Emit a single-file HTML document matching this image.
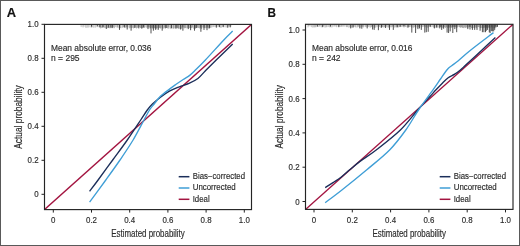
<!DOCTYPE html>
<html><head><meta charset="utf-8"><style>
html,body{margin:0;padding:0;background:#fff;}
#w{position:relative;width:520px;height:246px;box-sizing:border-box;border:1px solid #595959;overflow:hidden;background:#fff;}
svg{position:absolute;left:-1px;top:-1px;font-family:"Liberation Sans", sans-serif;will-change:transform;}
text{stroke:#2b2b2b;stroke-width:0.16px;paint-order:stroke;}
</style></head><body><div id="w">
<svg width="520" height="246" viewBox="0 0 520 246">
<clipPath id="c44"><rect x="44.5" y="24.4" width="207.0" height="185.2"/></clipPath>
<g clip-path="url(#c44)">
<line x1="44.5" y1="209.6" x2="251.5" y2="24.4" stroke="#a31440" stroke-width="1.35"/>
</g>
<path d="M89.60 191.30C91.02 189.42 94.25 185.22 98.10 180.00C101.95 174.78 107.83 166.67 112.70 160.00C117.57 153.33 122.63 146.67 127.30 140.00C131.97 133.33 137.37 125.00 140.70 120.00C144.03 115.00 145.35 112.67 147.30 110.00C149.25 107.33 150.20 106.13 152.40 104.00C154.60 101.87 157.60 99.38 160.50 97.20C163.40 95.02 166.67 92.63 169.80 90.90C172.93 89.17 176.10 88.05 179.30 86.80C182.50 85.55 185.90 84.78 189.00 83.40C192.10 82.02 195.23 80.53 197.90 78.50C200.57 76.47 201.95 74.28 205.00 71.20C208.05 68.12 211.58 64.55 216.20 60.00C220.82 55.45 229.95 46.58 232.70 43.90" fill="none" stroke="#1b2e5a" stroke-width="1.35" stroke-linejoin="round"/>
<path d="M89.60 202.10C92.30 198.42 100.73 187.02 105.80 180.00C110.87 172.98 115.45 166.67 120.00 160.00C124.55 153.33 129.10 146.67 133.10 140.00C137.10 133.33 141.27 125.00 144.00 120.00C146.73 115.00 147.80 112.67 149.50 110.00C151.20 107.33 152.38 106.28 154.20 104.00C156.02 101.72 157.80 98.82 160.40 96.30C163.00 93.78 167.30 90.82 169.80 88.90C172.30 86.98 173.17 86.37 175.40 84.80C177.63 83.23 180.87 81.03 183.20 79.50C185.53 77.97 187.45 77.08 189.40 75.60C191.35 74.12 192.23 73.20 194.90 70.60C197.57 68.00 200.58 65.10 205.40 60.00C210.22 54.90 219.25 44.82 223.80 40.00C228.35 35.18 231.22 32.58 232.70 31.10" fill="none" stroke="#3f9ed6" stroke-width="1.35" stroke-linejoin="round"/>
<path d="M81.0 24.5V26.9M82.0 24.5V27.1M83.1 24.5V27.5M83.7 24.5V26.6M85.1 24.5V27.0M85.8 24.5V28.0M86.8 24.5V27.8M87.7 24.5V27.5M88.4 24.5V27.5M89.8 24.5V27.3M91.0 24.5V27.5M91.6 24.5V27.7M92.6 24.5V27.0M93.2 24.5V27.8M94.2 24.5V27.6M95.5 24.5V27.6M97.0 24.5V27.2M98.3 24.5V27.2M99.7 24.5V27.8" stroke="#aaa" stroke-width="0.6" fill="none"/>
<path d="M100.0 24.5V27.2M100.7 24.5V28.4M101.7 24.5V27.9M102.5 24.5V27.7M103.3 24.5V27.5M104.4 24.5V27.8M105.8 24.5V28.0M107.3 24.5V28.2M108.7 24.5V27.9M109.4 24.5V28.2M110.9 24.5V28.3M111.9 24.5V28.0M112.7 24.5V28.2M113.7 24.5V27.4M114.3 24.5V28.2M115.8 24.5V27.1M117.1 24.5V27.6M117.7 24.5V27.4M119.0 24.5V28.2M119.5 24.5V27.9M120.1 24.5V28.0M120.9 24.5V28.2M122.4 24.5V27.7M123.9 24.5V27.4M124.5 24.5V27.8M125.0 24.5V27.3M125.9 24.5V27.9M126.6 24.5V27.1M127.9 24.5V27.4M129.4 24.5V28.3M130.3 24.5V27.6M131.3 24.5V27.9M132.4 24.5V27.8M133.5 24.5V28.3M134.5 24.5V27.6M135.7 24.5V27.3M136.5 24.5V28.4M137.6 24.5V27.8M138.1 24.5V27.6M139.2 24.5V27.0M140.3 24.5V27.9M140.8 24.5V27.9M141.8 24.5V28.0M142.7 24.5V28.0M143.9 24.5V27.0M144.5 24.5V27.9M145.9 24.5V27.4M146.9 24.5V27.8M147.7 24.5V27.5M148.5 24.5V27.5M149.6 24.5V27.4" stroke="#7a7a7a" stroke-width="0.6" fill="none"/>
<path d="M150.0 24.5V28.5M150.5 24.5V28.2M151.8 24.5V27.8M152.5 24.5V28.5M153.2 24.5V27.7M154.2 24.5V28.4M154.8 24.5V27.9M155.6 24.5V28.6M156.5 24.5V28.6M157.2 24.5V27.9M158.4 24.5V28.6M159.3 24.5V27.7M159.9 24.5V28.1M160.6 24.5V28.5M162.0 24.5V27.7M162.7 24.5V28.5M163.9 24.5V28.5M164.7 24.5V27.6M165.5 24.5V28.5M166.3 24.5V27.9M167.2 24.5V28.0M168.1 24.5V28.7M168.8 24.5V27.4M170.2 24.5V28.6M171.7 24.5V28.0M173.1 24.5V28.7M173.9 24.5V28.4M175.2 24.5V28.3M176.2 24.5V27.8M177.1 24.5V27.7M177.6 24.5V28.2M178.4 24.5V28.5M179.0 24.5V28.7M180.2 24.5V28.7M181.6 24.5V28.7M182.6 24.5V27.4M183.9 24.5V27.6M184.7 24.5V28.3M185.7 24.5V28.0M187.1 24.5V28.3M188.0 24.5V27.8M189.3 24.5V28.1M190.6 24.5V27.9M191.3 24.5V28.1M192.6 24.5V27.6M193.9 24.5V28.7M195.2 24.5V28.6M195.7 24.5V28.3M197.1 24.5V27.5M197.9 24.5V27.8M198.9 24.5V28.0M199.9 24.5V28.5M200.4 24.5V27.5M201.0 24.5V27.6M201.6 24.5V28.8M202.9 24.5V27.5M203.9 24.5V27.8M204.7 24.5V27.9M205.9 24.5V28.2M206.8 24.5V27.7M207.6 24.5V27.6M208.6 24.5V28.4M209.5 24.5V27.5M210.2 24.5V27.9" stroke="#5e5e5e" stroke-width="0.6" fill="none"/>
<path d="M211.0 24.5V27.5M211.9 24.5V27.5M213.0 24.5V27.0M213.9 24.5V27.1M215.1 24.5V27.0M216.3 24.5V27.0M217.0 24.5V27.2M218.2 24.5V26.5M219.1 24.5V27.0M220.5 24.5V27.7M221.4 24.5V27.7M222.7 24.5V26.8M223.6 24.5V26.6M225.0 24.5V27.3M226.3 24.5V27.5M227.5 24.5V27.4M228.6 24.5V26.5M229.7 24.5V26.4M230.3 24.5V27.5M230.9 24.5V26.5" stroke="#999" stroke-width="0.6" fill="none"/>
<path d="M91.5 24.5V26.7M97.3 24.5V26.4M99.9 24.5V27.2M103.0 24.5V27.2M106.3 24.5V29.0M108.3 24.5V27.7M110.8 24.5V27.6M112.3 24.5V27.7M119.5 24.5V29.9M124.2 24.5V27.2M127.2 24.5V29.5M131.1 24.5V30.7M134.9 24.5V28.0M138.8 24.5V28.4M141.8 24.5V28.7M143.4 24.5V27.6M148.0 24.5V29.1M151.0 24.5V33.4M153.4 24.5V30.7M155.7 24.5V29.9M158.2 24.5V29.9M162.2 24.5V30.7M166.0 24.5V28.0M171.4 24.5V28.4M176.0 24.5V28.7M180.6 24.5V29.5M182.9 24.5V30.7M188.3 24.5V29.1M190.6 24.5V30.2M194.5 24.5V30.7M196.3 24.5V28.0M200.9 24.5V31.8M204.0 24.5V29.9M207.0 24.5V30.2M209.4 24.5V28.4M216.3 24.5V27.7M219.4 24.5V27.2M223.2 24.5V27.2M227.8 24.5V27.7M230.2 24.5V27.2" stroke="#333" stroke-width="0.85" fill="none"/>
<rect x="44.5" y="24.4" width="207.0" height="185.2" fill="none" stroke="#242424" stroke-width="1.15"/>
<line x1="41.5" y1="194.30" x2="44.5" y2="194.30" stroke="#242424" stroke-width="1"/>
<text transform="translate(38.60,197.40) scale(0.88,1)" text-anchor="end" font-size="9" fill="#2b2b2b">0</text>
<line x1="53.30" y1="209.6" x2="53.30" y2="212.6" stroke="#242424" stroke-width="1"/>
<text transform="translate(53.30,222.70) scale(0.88,1)" text-anchor="middle" font-size="9" fill="#2b2b2b">0</text>
<line x1="41.5" y1="160.30" x2="44.5" y2="160.30" stroke="#242424" stroke-width="1"/>
<text transform="translate(38.60,163.40) scale(0.88,1)" text-anchor="end" font-size="9" fill="#2b2b2b">0.2</text>
<line x1="91.50" y1="209.6" x2="91.50" y2="212.6" stroke="#242424" stroke-width="1"/>
<text transform="translate(91.50,222.70) scale(0.88,1)" text-anchor="middle" font-size="9" fill="#2b2b2b">0.2</text>
<line x1="41.5" y1="126.30" x2="44.5" y2="126.30" stroke="#242424" stroke-width="1"/>
<text transform="translate(38.60,129.40) scale(0.88,1)" text-anchor="end" font-size="9" fill="#2b2b2b">0.4</text>
<line x1="129.70" y1="209.6" x2="129.70" y2="212.6" stroke="#242424" stroke-width="1"/>
<text transform="translate(129.70,222.70) scale(0.88,1)" text-anchor="middle" font-size="9" fill="#2b2b2b">0.4</text>
<line x1="41.5" y1="92.30" x2="44.5" y2="92.30" stroke="#242424" stroke-width="1"/>
<text transform="translate(38.60,95.40) scale(0.88,1)" text-anchor="end" font-size="9" fill="#2b2b2b">0.6</text>
<line x1="167.90" y1="209.6" x2="167.90" y2="212.6" stroke="#242424" stroke-width="1"/>
<text transform="translate(167.90,222.70) scale(0.88,1)" text-anchor="middle" font-size="9" fill="#2b2b2b">0.6</text>
<line x1="41.5" y1="58.30" x2="44.5" y2="58.30" stroke="#242424" stroke-width="1"/>
<text transform="translate(38.60,61.40) scale(0.88,1)" text-anchor="end" font-size="9" fill="#2b2b2b">0.8</text>
<line x1="206.10" y1="209.6" x2="206.10" y2="212.6" stroke="#242424" stroke-width="1"/>
<text transform="translate(206.10,222.70) scale(0.88,1)" text-anchor="middle" font-size="9" fill="#2b2b2b">0.8</text>
<line x1="41.5" y1="24.30" x2="44.5" y2="24.30" stroke="#242424" stroke-width="1"/>
<text transform="translate(38.60,27.40) scale(0.88,1)" text-anchor="end" font-size="9" fill="#2b2b2b">1.0</text>
<line x1="244.30" y1="209.6" x2="244.30" y2="212.6" stroke="#242424" stroke-width="1"/>
<text transform="translate(244.30,222.70) scale(0.88,1)" text-anchor="middle" font-size="9" fill="#2b2b2b">1.0</text>
<text x="148.0" y="236.9" text-anchor="middle" font-size="10" fill="#2b2b2b" textLength="73.5" lengthAdjust="spacingAndGlyphs">Estimated probability</text>
<text transform="translate(21.5,117.0) rotate(-90)" x="0" y="0" text-anchor="middle" font-size="10" fill="#2b2b2b" textLength="63.4" lengthAdjust="spacingAndGlyphs">Actual probability</text>
<text x="51.0" y="50.9" font-size="8.6" fill="#2b2b2b" textLength="100.4" lengthAdjust="spacingAndGlyphs">Mean absolute error, 0.036</text>
<text x="51.0" y="60.9" font-size="8.6" fill="#2b2b2b" textLength="28.6" lengthAdjust="spacingAndGlyphs">n = 295</text>
<line x1="178.7" y1="176.7" x2="189.39999999999998" y2="176.7" stroke="#1b2e5a" stroke-width="1.5"/>
<text x="192.7" y="179.0" font-size="8.3" fill="#2b2b2b" textLength="52.3" lengthAdjust="spacingAndGlyphs">Bias−corrected</text>
<line x1="178.7" y1="188.0" x2="189.39999999999998" y2="188.0" stroke="#3f9ed6" stroke-width="1.5"/>
<text x="192.7" y="190.3" font-size="8.3" fill="#2b2b2b" textLength="43" lengthAdjust="spacingAndGlyphs">Uncorrected</text>
<line x1="178.7" y1="199.29999999999998" x2="189.39999999999998" y2="199.29999999999998" stroke="#a31440" stroke-width="1.5"/>
<text x="192.7" y="201.6" font-size="8.3" fill="#2b2b2b" textLength="17" lengthAdjust="spacingAndGlyphs">Ideal</text>
<text transform="translate(6.7,16.7) scale(1.05,1)" font-size="12.3" font-weight="bold" fill="#111">A</text>
<clipPath id="c305"><rect x="305.5" y="24.3" width="207.5" height="185.1"/></clipPath>
<g clip-path="url(#c305)">
<line x1="305.5" y1="209.4" x2="513" y2="24.3" stroke="#a31440" stroke-width="1.35"/>
</g>
<path d="M325.20 187.60C326.50 186.77 330.37 184.32 333.00 182.60C335.63 180.88 338.17 179.47 341.00 177.30C343.83 175.13 346.83 172.25 350.00 169.60C353.17 166.95 355.63 164.67 360.00 161.40C364.37 158.13 369.47 155.23 376.20 150.00C382.93 144.77 393.48 136.67 400.40 130.00C407.32 123.33 412.77 115.58 417.70 110.00C422.63 104.42 426.95 99.87 430.00 96.50C433.05 93.13 433.98 91.98 436.00 89.80C438.02 87.62 440.07 85.42 442.10 83.40C444.13 81.38 446.17 79.20 448.20 77.70C450.23 76.20 452.27 75.70 454.30 74.40C456.33 73.10 458.45 71.50 460.40 69.90C462.35 68.30 462.40 68.12 466.00 64.80C469.60 61.48 477.10 54.55 482.00 50.00C486.90 45.45 493.17 39.58 495.40 37.50" fill="none" stroke="#1b2e5a" stroke-width="1.35" stroke-linejoin="round"/>
<path d="M325.20 202.70C327.98 200.58 335.02 195.45 341.90 190.00C348.78 184.55 358.55 176.67 366.50 170.00C374.45 163.33 383.05 156.67 389.60 150.00C396.15 143.33 400.98 136.67 405.80 130.00C410.62 123.33 413.88 116.80 418.50 110.00C423.12 103.20 429.83 94.37 433.50 89.20C437.17 84.03 438.17 82.33 440.50 79.00C442.83 75.67 445.58 71.45 447.50 69.20C449.42 66.95 450.25 66.87 452.00 65.50C453.75 64.13 454.87 63.58 458.00 61.00C461.13 58.42 464.88 54.73 470.80 50.00C476.72 45.27 489.72 35.50 493.50 32.60" fill="none" stroke="#3f9ed6" stroke-width="1.35" stroke-linejoin="round"/>
<path d="M308.0 24.5V27.4M308.7 24.5V26.2M310.0 24.5V26.4M311.4 24.5V27.1M312.7 24.5V27.5M313.8 24.5V27.3M314.3 24.5V27.3M315.3 24.5V27.2M315.9 24.5V27.2M317.4 24.5V26.3M318.2 24.5V27.0M319.5 24.5V26.5M320.2 24.5V26.5M321.3 24.5V27.3M322.2 24.5V26.7M323.1 24.5V26.7M324.0 24.5V26.3M325.0 24.5V27.6M325.9 24.5V27.2M326.6 24.5V27.2M327.9 24.5V27.1M328.9 24.5V26.9M330.0 24.5V27.5M330.7 24.5V26.3M331.9 24.5V27.5M332.9 24.5V26.8M334.1 24.5V26.5M334.9 24.5V26.5M336.0 24.5V26.6M336.7 24.5V27.2M338.2 24.5V26.6M339.4 24.5V26.8M340.7 24.5V27.0M341.5 24.5V26.5M342.0 24.5V26.9M342.9 24.5V26.4M343.8 24.5V26.7" stroke="#999" stroke-width="0.6" fill="none"/>
<path d="M345.0 24.5V26.6M346.5 24.5V27.1M347.6 24.5V27.1M348.9 24.5V27.6M350.0 24.5V27.1M351.2 24.5V27.6M352.1 24.5V27.4M353.6 24.5V27.1M354.3 24.5V26.7M355.5 24.5V27.3M357.0 24.5V27.6M357.7 24.5V26.7M358.5 24.5V26.7M359.7 24.5V27.6M361.1 24.5V26.8M362.4 24.5V26.8M363.4 24.5V27.4M363.9 24.5V26.5M365.3 24.5V26.8M366.1 24.5V27.2M367.3 24.5V26.4M368.1 24.5V27.0M369.1 24.5V26.7M370.2 24.5V27.7M371.1 24.5V27.2M371.7 24.5V26.8M372.9 24.5V26.6M374.3 24.5V27.7M374.9 24.5V27.7M375.8 24.5V27.5M377.0 24.5V26.8M378.2 24.5V27.3M379.5 24.5V26.8M380.7 24.5V27.7M381.9 24.5V27.2M382.5 24.5V27.1M383.4 24.5V27.4M384.6 24.5V27.2M385.2 24.5V27.3M386.4 24.5V26.7M387.8 24.5V27.3M388.4 24.5V27.7M389.0 24.5V26.9M390.3 24.5V27.2M391.3 24.5V27.3M392.3 24.5V26.8M392.9 24.5V26.5M394.2 24.5V27.5M395.2 24.5V27.4M396.1 24.5V26.8M396.9 24.5V27.6M397.5 24.5V27.1M398.2 24.5V27.5M399.1 24.5V26.9M400.0 24.5V27.2M401.3 24.5V26.9M402.6 24.5V26.6M403.4 24.5V26.5M404.0 24.5V27.5M405.2 24.5V26.7M405.9 24.5V27.0M407.2 24.5V27.5M408.4 24.5V27.2M409.0 24.5V27.0M409.7 24.5V27.1M410.8 24.5V26.7M411.6 24.5V27.5M412.1 24.5V27.5M413.5 24.5V27.7M414.4 24.5V27.2M415.4 24.5V27.3M416.9 24.5V27.4M417.7 24.5V27.6M418.7 24.5V27.2M419.9 24.5V26.4M421.2 24.5V27.3M422.2 24.5V27.1M423.2 24.5V26.7M424.2 24.5V26.5M425.2 24.5V27.3M426.1 24.5V27.2M427.6 24.5V27.6M428.2 24.5V27.5M429.3 24.5V26.5M430.2 24.5V26.7M430.8 24.5V27.2M432.2 24.5V26.9M433.6 24.5V27.4M434.2 24.5V27.6M435.3 24.5V27.7M436.5 24.5V27.4M437.4 24.5V27.5M438.8 24.5V27.6M439.8 24.5V27.5" stroke="#858585" stroke-width="0.6" fill="none"/>
<path d="M440.0 24.5V27.0M440.5 24.5V26.9M441.2 24.5V27.0M442.2 24.5V27.8M443.3 24.5V27.4M444.4 24.5V27.2M445.4 24.5V27.9M446.3 24.5V27.1M447.7 24.5V27.8M448.6 24.5V27.3M449.6 24.5V27.6M450.3 24.5V26.8M451.0 24.5V27.9M451.7 24.5V27.4M452.4 24.5V27.1M453.0 24.5V27.4M453.7 24.5V26.8M454.3 24.5V27.0M455.3 24.5V26.9M455.8 24.5V27.4M456.7 24.5V27.8M457.3 24.5V27.4M458.2 24.5V26.8M459.6 24.5V27.1M460.2 24.5V27.5M460.9 24.5V27.7M461.7 24.5V27.0M462.3 24.5V27.8M463.1 24.5V27.9M464.0 24.5V28.1M464.8 24.5V27.1M465.6 24.5V27.9M466.7 24.5V27.3M467.3 24.5V27.8M468.8 24.5V27.6M469.3 24.5V26.8M469.9 24.5V27.0M470.4 24.5V26.9M471.6 24.5V28.1M472.3 24.5V28.2M473.3 24.5V27.9M474.7 24.5V28.1M475.2 24.5V27.2M476.3 24.5V28.1M476.9 24.5V27.2M478.3 24.5V27.0M479.1 24.5V27.3M480.3 24.5V28.1M481.0 24.5V27.8M482.2 24.5V28.0M483.3 24.5V28.1M484.2 24.5V27.4M484.9 24.5V27.9M485.9 24.5V27.2M486.5 24.5V27.8M487.6 24.5V27.8M488.5 24.5V27.5M489.2 24.5V27.8M489.7 24.5V27.5M491.0 24.5V27.7M491.6 24.5V27.1M492.9 24.5V27.7M494.3 24.5V28.0M495.2 24.5V28.1M496.5 24.5V27.3M497.3 24.5V26.9" stroke="#6a6a6a" stroke-width="0.6" fill="none"/>
<path d="M317.3 24.5V26.7M322.7 24.5V27.2M330.4 24.5V26.7M338.8 24.5V27.2M350.7 24.5V28.4M353.0 24.5V27.6M359.9 24.5V28.4M361.8 24.5V28.7M367.2 24.5V28.4M372.6 24.5V29.5M374.2 24.5V29.9M378.4 24.5V30.2M381.5 24.5V27.7M385.6 24.5V28.0M389.5 24.5V29.9M393.3 24.5V29.9M397.2 24.5V27.2M400.2 24.5V26.8M404.0 24.5V26.4M408.0 24.5V27.6M411.8 24.5V32.6M415.6 24.5V33.0M417.9 24.5V29.1M419.5 24.5V28.4M421.3 24.5V29.9M424.8 24.5V32.6M426.3 24.5V32.2M428.2 24.5V31.8M430.2 24.5V26.8M434.4 24.5V28.4M436.7 24.5V27.6M439.8 24.5V28.4M441.7 24.5V29.9M443.6 24.5V28.7M447.1 24.5V32.6M448.6 24.5V33.0M450.2 24.5V31.4M452.8 24.5V33.0M454.8 24.5V29.1M456.7 24.5V32.2M467.8 24.5V29.1M470.0 24.5V29.5M472.4 24.5V29.9M474.7 24.5V29.9M477.0 24.5V29.9M480.1 24.5V30.7M482.4 24.5V32.2M483.9 24.5V32.2M485.5 24.5V32.2M487.4 24.5V29.9M490.1 24.5V33.0M492.4 24.5V31.4M494.7 24.5V29.9M486.2 24.5V30.9M489.3 24.5V32.3M491.3 24.5V31.1M493.7 24.5V31.4M495.7 24.5V26.8M497.4 24.5V26.8" stroke="#333" stroke-width="0.85" fill="none"/>
<rect x="305.5" y="24.3" width="207.5" height="185.1" fill="none" stroke="#242424" stroke-width="1.15"/>
<line x1="302.5" y1="201.50" x2="305.5" y2="201.50" stroke="#242424" stroke-width="1"/>
<text transform="translate(299.60,204.60) scale(0.88,1)" text-anchor="end" font-size="9" fill="#2b2b2b">0</text>
<line x1="314.00" y1="209.4" x2="314.00" y2="212.4" stroke="#242424" stroke-width="1"/>
<text transform="translate(314.00,222.50) scale(0.88,1)" text-anchor="middle" font-size="9" fill="#2b2b2b">0</text>
<line x1="302.5" y1="167.20" x2="305.5" y2="167.20" stroke="#242424" stroke-width="1"/>
<text transform="translate(299.60,170.30) scale(0.88,1)" text-anchor="end" font-size="9" fill="#2b2b2b">0.2</text>
<line x1="352.30" y1="209.4" x2="352.30" y2="212.4" stroke="#242424" stroke-width="1"/>
<text transform="translate(352.30,222.50) scale(0.88,1)" text-anchor="middle" font-size="9" fill="#2b2b2b">0.2</text>
<line x1="302.5" y1="132.90" x2="305.5" y2="132.90" stroke="#242424" stroke-width="1"/>
<text transform="translate(299.60,136.00) scale(0.88,1)" text-anchor="end" font-size="9" fill="#2b2b2b">0.4</text>
<line x1="390.60" y1="209.4" x2="390.60" y2="212.4" stroke="#242424" stroke-width="1"/>
<text transform="translate(390.60,222.50) scale(0.88,1)" text-anchor="middle" font-size="9" fill="#2b2b2b">0.4</text>
<line x1="302.5" y1="98.60" x2="305.5" y2="98.60" stroke="#242424" stroke-width="1"/>
<text transform="translate(299.60,101.70) scale(0.88,1)" text-anchor="end" font-size="9" fill="#2b2b2b">0.6</text>
<line x1="428.90" y1="209.4" x2="428.90" y2="212.4" stroke="#242424" stroke-width="1"/>
<text transform="translate(428.90,222.50) scale(0.88,1)" text-anchor="middle" font-size="9" fill="#2b2b2b">0.6</text>
<line x1="302.5" y1="64.30" x2="305.5" y2="64.30" stroke="#242424" stroke-width="1"/>
<text transform="translate(299.60,67.40) scale(0.88,1)" text-anchor="end" font-size="9" fill="#2b2b2b">0.8</text>
<line x1="467.20" y1="209.4" x2="467.20" y2="212.4" stroke="#242424" stroke-width="1"/>
<text transform="translate(467.20,222.50) scale(0.88,1)" text-anchor="middle" font-size="9" fill="#2b2b2b">0.8</text>
<line x1="302.5" y1="30.00" x2="305.5" y2="30.00" stroke="#242424" stroke-width="1"/>
<text transform="translate(299.60,33.10) scale(0.88,1)" text-anchor="end" font-size="9" fill="#2b2b2b">1.0</text>
<line x1="505.50" y1="209.4" x2="505.50" y2="212.4" stroke="#242424" stroke-width="1"/>
<text transform="translate(505.50,222.50) scale(0.88,1)" text-anchor="middle" font-size="9" fill="#2b2b2b">1.0</text>
<text x="409.25" y="236.9" text-anchor="middle" font-size="10" fill="#2b2b2b" textLength="73.5" lengthAdjust="spacingAndGlyphs">Estimated probability</text>
<text transform="translate(282.5,116.85000000000001) rotate(-90)" x="0" y="0" text-anchor="middle" font-size="10" fill="#2b2b2b" textLength="63.4" lengthAdjust="spacingAndGlyphs">Actual probability</text>
<text x="312.0" y="50.9" font-size="8.6" fill="#2b2b2b" textLength="100.4" lengthAdjust="spacingAndGlyphs">Mean absolute error, 0.016</text>
<text x="312.0" y="60.9" font-size="8.6" fill="#2b2b2b" textLength="28.6" lengthAdjust="spacingAndGlyphs">n = 242</text>
<line x1="439.7" y1="176.7" x2="450.4" y2="176.7" stroke="#1b2e5a" stroke-width="1.5"/>
<text x="453.7" y="179.0" font-size="8.3" fill="#2b2b2b" textLength="52.3" lengthAdjust="spacingAndGlyphs">Bias−corrected</text>
<line x1="439.7" y1="188.0" x2="450.4" y2="188.0" stroke="#3f9ed6" stroke-width="1.5"/>
<text x="453.7" y="190.3" font-size="8.3" fill="#2b2b2b" textLength="43" lengthAdjust="spacingAndGlyphs">Uncorrected</text>
<line x1="439.7" y1="199.29999999999998" x2="450.4" y2="199.29999999999998" stroke="#a31440" stroke-width="1.5"/>
<text x="453.7" y="201.6" font-size="8.3" fill="#2b2b2b" textLength="17" lengthAdjust="spacingAndGlyphs">Ideal</text>
<text transform="translate(267.5,16.8) scale(0.98,1)" font-size="12" font-weight="bold" fill="#111">B</text>
</svg></div></body></html>
